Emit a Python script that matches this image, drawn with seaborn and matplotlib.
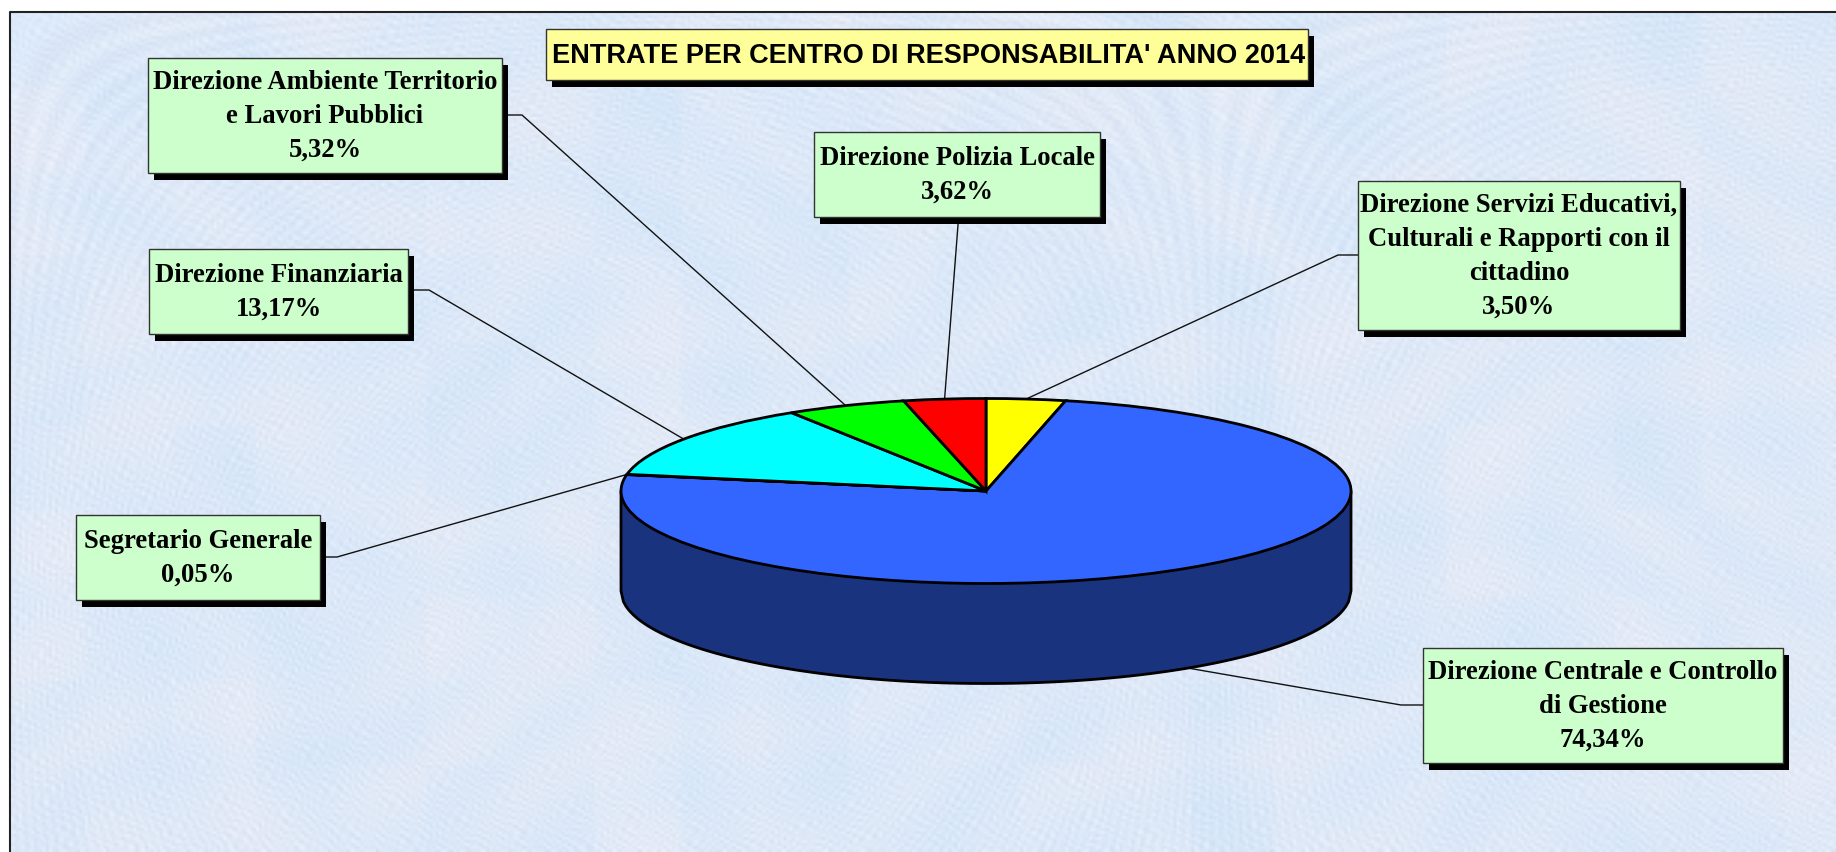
import numpy as np
import seaborn as sns
import matplotlib.pyplot as plt
from matplotlib.patches import Rectangle

# chart values, clockwise from twelve o'clock
categories = ["Direzione Servizi Educativi,\nCulturali e Rapporti con il\ncittadino",
              "Direzione Centrale e Controllo\ndi Gestione",
              "Segretario Generale",
              "Direzione Finanziaria",
              "Direzione Ambiente Territorio\ne Lavori Pubblici",
              "Direzione Polizia Locale"]
shares = [3.50, 74.34, 0.05, 13.17, 5.32, 3.62]
share_labels = ["3,50%", "74,34%", "0,05%", "13,17%", "5,32%", "3,62%"]
slice_colors = ["#FFFF00", "#3366FF", "#FF00FF", "#00FFFF", "#00FF00", "#FF0000"]
title = "ENTRATE PER CENTRO DI RESPONSABILITA' ANNO 2014"

# figure size and pie geometry, in pixels
W, H = 1836, 852
CX, CY, RX, RY, DEPTH = 986, 491, 365, 92.5, 100

# label boxes (x0, y0, x1, y1) in pixels, same order as categories
boxes = [(1358, 181, 1680, 330), (1423, 648, 1783, 763), (76, 515, 320, 600),
         (149, 249, 408, 334), (148, 58, 502, 173), (814, 132, 1100, 217)]
# where the leader leaves the box, and its first bend
leaders = [((1358, 255), (1338, 255)), ((1423, 705), (1401, 705)), ((320, 557), (337, 557)),
           ((408, 290), (429, 290)), ((502, 115), (522, 115)), ((958, 217), (958, 225))]

sns.set_theme(style="white")
palette = sns.color_palette(slice_colors)

fig = plt.figure(figsize=(W / 100, H / 100), dpi=100, facecolor="white")

# background axes, in pixel units
bg = fig.add_axes([0, 0, 1, 1], zorder=0)
bg.set_xlim(0, W)
bg.set_ylim(H, 0)
bg.axis("off")

# paper-like pale blue texture: sines sampled on a coarse 3px grid so it looks mottled
yy, xx = np.mgrid[12:H:3, 10:W:3]
fine = (np.sin(xx * 0.83 + yy * 0.47 + 2.5 * np.sin(yy * 0.13 + xx * 0.07))
        * np.sin(yy * 0.91 - xx * 0.39 + 2.5 * np.sin(xx * 0.11 - yy * 0.05))
        + 0.6 * np.sin(xx * yy * 0.00173)
        + 0.5 * np.sin(xx * 0.37 - yy * 0.71 + 3 * np.sin(xx * 0.019 + yy * 0.023)))
blob = np.sin(xx * 0.023 + 2 * np.sin(yy * 0.017)) * np.sin(yy * 0.029 + 2 * np.sin(xx * 0.013))
tx, ty = (xx // 85), (yy // 85)
tile = np.sin(tx * 2.7 + ty * 1.9) * np.cos(tx * 1.3 - ty * 3.1)
tex = np.zeros(xx.shape + (3,))
tex[..., 0] = 222 + 6 * fine - 5 * blob - 3 * tile
tex[..., 1] = 233 + 5 * fine - 1 * blob - 1 * tile
tex[..., 2] = 248 + 3 * fine + 1 * blob
bg.imshow(np.clip(tex, 0, 255).astype(np.uint8), extent=(10, W, H, 12), aspect="auto",
          interpolation="bilinear", zorder=0)
bg.set_xlim(0, W)
bg.set_ylim(H, 0)
bg.plot([10, 10, W], [H, 12, 12], color="#222222", lw=1.5, zorder=1)

# pie axes: unit circle squashed into the tilted ellipse
ax = fig.add_axes([0, 0, 1, 1], zorder=1)
d = DEPTH / RY
xs = np.linspace(-1, 1, 300)
wall_x = np.r_[-1, xs, 1]
wall_y = np.r_[0, -d - np.sqrt(1 - xs ** 2), 0]
ax.fill(wall_x, wall_y, facecolor="#19337F", edgecolor="black", lw=2, joinstyle="round", zorder=0.5)
wedges, _ = ax.pie(shares, colors=palette, startangle=90, counterclock=False, radius=1,
                   wedgeprops=dict(edgecolor="black", linewidth=2, zorder=1))
ax.set_aspect("auto")
ax.set_xlim(-CX / RX, (W - CX) / RX)
ax.set_ylim((CY - H) / RY, CY / RY)
ax.axis("off")

# leader lines go to the middle of each slice rim
for wedge, (start, bend) in zip(wedges, leaders):
    mid = np.deg2rad((wedge.theta1 + wedge.theta2) / 2)
    px = CX + RX * np.cos(mid)
    py = CY - RY * np.sin(mid)
    if np.sin(mid) < 0 and abs(np.cos(mid)) < 0.95:
        py += DEPTH  # front slices: the rim is the bottom of the wall
    bg.plot([start[0], bend[0], px], [start[1], bend[1], py], color="#111111", lw=1, zorder=2)


def draw_box(x0, y0, x1, y1, color):
    bg.add_patch(Rectangle((x0 + 6, y0 + 7), x1 - x0, y1 - y0, facecolor="black", edgecolor="none", zorder=3))
    bg.add_patch(Rectangle((x0, y0), x1 - x0, y1 - y0, facecolor=color, edgecolor="#333333", lw=1, zorder=4))


for (x0, y0, x1, y1), name, pct in zip(boxes, categories, share_labels):
    draw_box(x0, y0, x1, y1, "#CCFFCC")
    bg.text((x0 + x1) / 2, (y0 + y1) / 2 + 1, name + "\n" + pct, ha="center", va="center",
            family="Liberation Serif", weight="bold", size=19.2, color="black",
            linespacing=1.47, zorder=5)

draw_box(546, 29, 1308, 80, "#FFFF99")
bg.text(929, 56, title, ha="center", va="center", family="Liberation Sans", weight="bold",
        size=19.5, color="black", zorder=5)

fig.savefig("out.png", dpi=100)
